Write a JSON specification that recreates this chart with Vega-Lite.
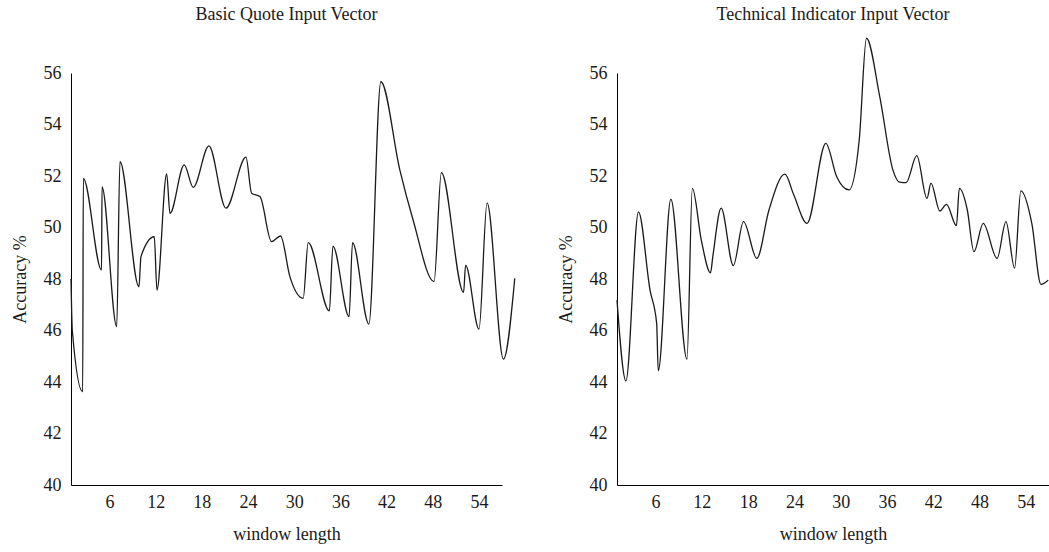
{
  "$schema": "https://vega.github.io/schema/vega-lite/v6.json",
  "padding": {"left": 11, "top": 5, "right": 0, "bottom": 5},
  "bounds": "flush",
  "spacing": 115,
  "config": {
    "view": {"stroke": null},
    "font": "Liberation Serif",
    "axis": {"domainColor": "#000", "domainWidth": 1, "ticks": false, "grid": false, "labelFlush": false,
      "labelFont": "Liberation Serif", "labelFontSize": 18, "labelColor": "#1a1a1a",
      "titleFont": "Liberation Serif", "titleFontSize": 18, "titleFontWeight": "normal", "titleColor": "#1a1a1a"},
    "title": {"font": "Liberation Serif", "fontSize": 18, "fontWeight": "normal", "color": "#1a1a1a"}
  },
  "datasets": {
    "basic": [
      {"w":1.0,"acc":48.0},{"w":1.17,"acc":46.0},{"w":2.52,"acc":43.62},{"w":2.6,"acc":51.91},{"w":4.97,"acc":48.35},{"w":5.03,"acc":51.58},{"w":6.94,"acc":46.15},{"w":7.36,"acc":52.56},{"w":9.83,"acc":47.7},{"w":10.09,"acc":48.87},{"w":11.82,"acc":49.64},{"w":12.17,"acc":47.57},{"w":13.43,"acc":52.08},{"w":13.86,"acc":50.55},{"w":15.71,"acc":52.43},{"w":16.88,"acc":51.56},{"w":18.92,"acc":53.17},{"w":21.13,"acc":50.75},{"w":23.73,"acc":52.73},{"w":24.47,"acc":51.33},{"w":25.55,"acc":51.2},{"w":27.06,"acc":49.45},{"w":28.23,"acc":49.67},{"w":29.44,"acc":48.09},{"w":31.17,"acc":47.25},{"w":31.82,"acc":49.41},{"w":34.57,"acc":46.76},{"w":35.03,"acc":49.28},{"w":37.13,"acc":46.54},{"w":37.58,"acc":49.41},{"w":39.7,"acc":46.25},{"w":41.26,"acc":55.66},{"w":43.73,"acc":52.23},{"w":45.45,"acc":50.29},{"w":48.17,"acc":47.9},{"w":49.12,"acc":52.13},{"w":52.01,"acc":47.48},{"w":52.27,"acc":48.54},{"w":54.01,"acc":46.05},{"w":55.06,"acc":50.96},{"w":57.19,"acc":44.89},{"w":58.66,"acc":48.03}
    ],
    "tech": [
      {"w":1.0,"acc":47.18},{"w":2.16,"acc":44.04},{"w":3.78,"acc":50.61},{"w":5.28,"acc":47.57},{"w":6.14,"acc":46.28},{"w":6.35,"acc":44.44},{"w":7.98,"acc":51.1},{"w":10.07,"acc":44.89},{"w":10.77,"acc":51.52},{"w":11.93,"acc":49.51},{"w":13.12,"acc":48.24},{"w":13.42,"acc":48.87},{"w":14.5,"acc":50.75},{"w":16.08,"acc":48.52},{"w":17.4,"acc":50.23},{"w":19.12,"acc":48.8},{"w":20.7,"acc":50.68},{"w":22.76,"acc":52.07},{"w":23.92,"acc":51.26},{"w":25.63,"acc":50.16},{"w":28.07,"acc":53.27},{"w":29.48,"acc":51.97},{"w":31.08,"acc":51.46},{"w":32.4,"acc":53.4},{"w":33.34,"acc":57.35},{"w":35.06,"acc":55.08},{"w":36.77,"acc":52.23},{"w":37.63,"acc":51.76},{"w":38.48,"acc":51.74},{"w":39.86,"acc":52.79},{"w":41.18,"acc":51.13},{"w":41.7,"acc":51.72},{"w":42.85,"acc":50.64},{"w":43.71,"acc":50.9},{"w":45.0,"acc":50.07},{"w":45.38,"acc":51.52},{"w":46.41,"acc":50.68},{"w":47.27,"acc":49.06},{"w":48.47,"acc":50.16},{"w":50.27,"acc":48.8},{"w":51.42,"acc":50.23},{"w":52.54,"acc":48.42},{"w":53.35,"acc":51.42},{"w":54.77,"acc":50.16},{"w":55.96,"acc":47.79},{"w":56.9,"acc":47.95}
    ]
  },
  "hconcat": [
    {
      "width": 431, "height": 412,
      "title": {"text": "Basic Quote Input Vector", "offset": 40},
      "data": {"name": "basic"},
      "mark": {"type": "line", "interpolate": "monotone", "color": "#1a1a1a", "strokeWidth": 1.3},
      "encoding": {
        "x": {"field": "w", "type": "quantitative", "scale": {"domain": [1, 57], "nice": false, "zero": false},
          "axis": {"values": [6, 12, 18, 24, 30, 36, 42, 48, 54], "title": "window length", "labelPadding": 8, "titlePadding": 14}},
        "y": {"field": "acc", "type": "quantitative", "scale": {"domain": [40, 56], "nice": false, "zero": false},
          "axis": {"values": [40, 42, 44, 46, 48, 50, 52, 54, 56], "title": "Accuracy %", "labelPadding": 10, "titlePadding": 14}}
      }
    },
    {
      "width": 432, "height": 412,
      "title": {"text": "Technical Indicator Input Vector", "offset": 12},
      "data": {"name": "tech"},
      "mark": {"type": "line", "interpolate": "monotone", "color": "#1a1a1a", "strokeWidth": 1.3},
      "encoding": {
        "x": {"field": "w", "type": "quantitative", "scale": {"domain": [1, 57], "nice": false, "zero": false},
          "axis": {"values": [6, 12, 18, 24, 30, 36, 42, 48, 54], "title": "window length", "labelPadding": 8, "titlePadding": 14}},
        "y": {"field": "acc", "type": "quantitative", "scale": {"domain": [40, 56], "nice": false, "zero": false},
          "axis": {"values": [40, 42, 44, 46, 48, 50, 52, 54, 56], "title": "Accuracy %", "labelPadding": 10, "titlePadding": 14}}
      }
    }
  ]
}
